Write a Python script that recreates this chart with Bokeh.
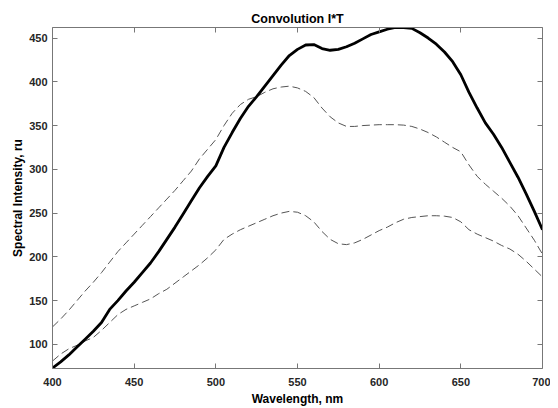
from bokeh.plotting import figure
from bokeh.models import Range1d, LinearAxis, FixedTicker, Title
from bokeh.embed import file_html
from bokeh.resources import INLINE

wavelength = [400, 405, 410, 415, 420, 425, 430, 435, 440, 445, 450, 455, 460, 465, 470,
              475, 480, 485, 490, 495, 500, 505, 510, 515, 520, 525, 530, 535, 540, 545,
              550, 555, 560, 565, 570, 575, 580, 585, 590, 595, 600, 605, 610, 615, 620,
              625, 630, 635, 640, 645, 650, 655, 660, 665, 670, 675, 680, 685, 690, 695, 700]

conv_total = [73, 80, 88, 97, 106, 115, 125, 140, 150, 161, 171, 182, 193, 206, 220,
              234, 249, 264, 279, 292, 304, 325, 342, 358, 372, 383, 395, 407, 419, 430,
              437, 442, 442.5, 438, 436, 437, 440, 444, 449, 454, 457, 460, 462, 462, 461,
              456, 450, 443, 434, 423, 408, 388, 370, 353, 340, 325, 308, 291, 272, 252, 231]

conv_upper = [120, 129, 139, 150, 161, 171, 182, 194, 206, 216, 226, 236, 246, 256, 266,
              276, 287, 298, 312, 323, 334, 350, 364, 374, 380, 383, 388, 392, 394, 395,
              393, 389, 382, 370, 360, 353, 349, 349, 350, 350.5, 351, 351, 351, 350.5, 349,
              346, 342, 337, 331, 325, 320, 305, 292, 283, 275, 267, 258, 247, 233, 219, 203]

conv_lower = [81, 89, 95, 99, 104, 108, 116, 125, 134, 140, 144, 148, 152, 158, 163,
              170, 177, 184, 191, 199, 208, 220, 226, 231, 235, 239, 243, 247, 250, 252,
              251, 247, 240, 229, 220, 215, 214, 216, 220, 225, 230, 234, 239, 243, 245,
              246, 247, 247, 246.5, 245, 240, 231, 226, 222, 218, 213, 209, 203, 195, 186, 177]

x_ticks = [400, 450, 500, 550, 600, 650, 700]
y_ticks = [100, 150, 200, 250, 300, 350, 400, 450]

FONT = "Liberation Sans"
AX_COLOR = "#777777"
TXT = "#262626"

p = figure(width=550, height=408, output_backend="svg", toolbar_location=None,
           x_range=Range1d(400, 700), y_range=Range1d(72.5, 462),
           min_border_left=52, min_border_right=8, min_border_top=27, min_border_bottom=40)

p.title = Title(text="Convolution I*T", align="center", text_font=FONT,
                text_font_size="12.5px", text_font_style="bold", text_color="#000000",
                standoff=4, offset=0)

p.grid.visible = False
p.outline_line_color = None
p.background_fill_color = "white"

for ax in (p.xaxis[0], p.yaxis[0]):
    ax.major_tick_in = 5
    ax.major_tick_out = 0
    ax.minor_tick_in = 0
    ax.minor_tick_out = 0
    ax.axis_line_color = AX_COLOR
    ax.major_tick_line_color = AX_COLOR
    ax.major_label_text_font = FONT
    ax.major_label_text_font_size = "11px"
    ax.major_label_text_font_style = "bold"
    ax.major_label_text_color = TXT
    ax.axis_label_text_font = FONT
    ax.axis_label_text_font_size = "12px"
    ax.axis_label_text_font_style = "bold"
    ax.axis_label_text_color = "#000000"

p.xaxis[0].ticker = FixedTicker(ticks=x_ticks)
p.yaxis[0].ticker = FixedTicker(ticks=y_ticks)
p.xaxis[0].axis_label = "Wavelength, nm"
p.yaxis[0].axis_label = "Spectral Intensity, ru"
p.xaxis[0].major_label_standoff = 9
p.yaxis[0].major_label_standoff = 5
p.xaxis[0].axis_label_standoff = 3
p.yaxis[0].axis_label_standoff = 1

top_ax = LinearAxis(ticker=FixedTicker(ticks=x_ticks), major_tick_in=5, major_tick_out=0,
                    minor_tick_in=0, minor_tick_out=0, axis_line_color=AX_COLOR,
                    major_tick_line_color=AX_COLOR,
                    major_label_overrides={t: "" for t in x_ticks},
                    major_label_standoff=0)
right_ax = LinearAxis(ticker=FixedTicker(ticks=y_ticks), major_tick_in=5, major_tick_out=0,
                      minor_tick_in=0, minor_tick_out=0, axis_line_color=AX_COLOR,
                      major_tick_line_color=AX_COLOR,
                      major_label_overrides={t: "" for t in y_ticks},
                      major_label_standoff=0)
p.add_layout(top_ax, "above")
p.add_layout(right_ax, "right")

p.line(wavelength, conv_upper, line_color="#555555", line_width=1, line_dash="8 4")
p.line(wavelength, conv_lower, line_color="#555555", line_width=1, line_dash="8 4")
p.line(wavelength, conv_total, line_color="#000000", line_width=2.8)

open("out.html", "w").write(file_html(p, INLINE))
